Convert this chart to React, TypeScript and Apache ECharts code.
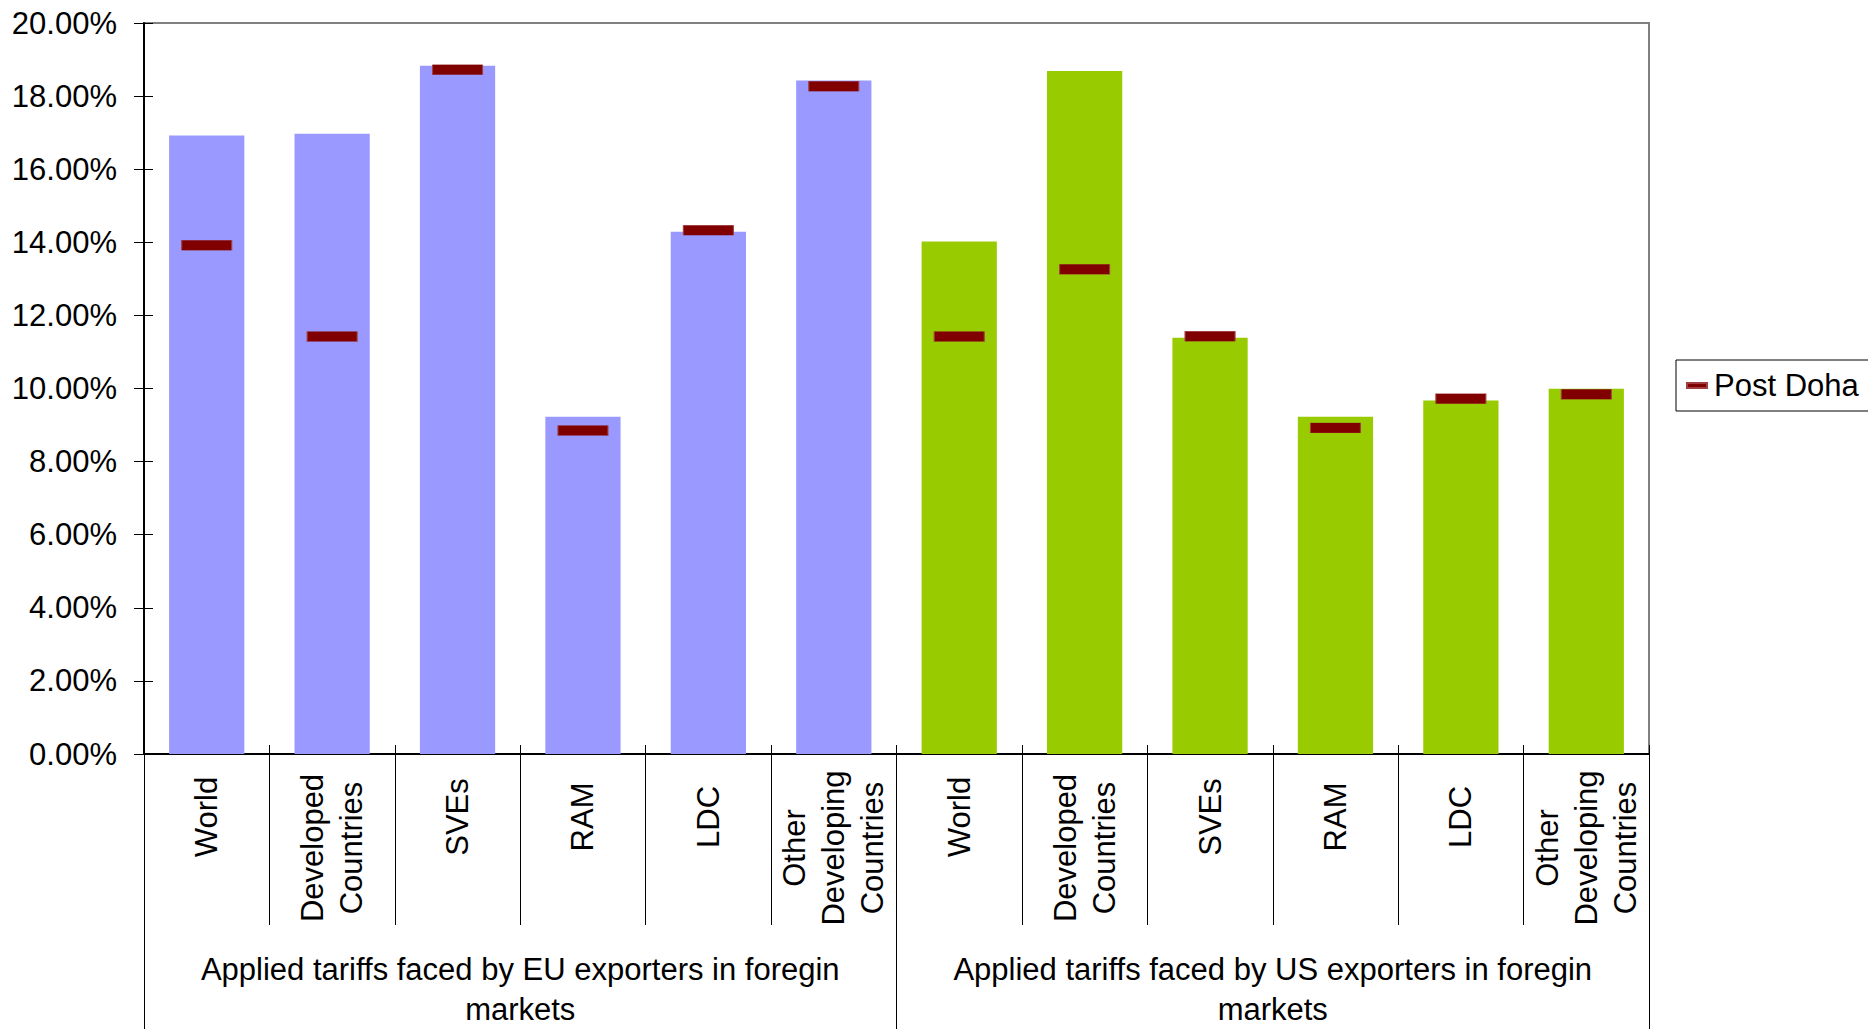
import React, { useEffect, useRef } from "react";
import * as echarts from "echarts";

const categories = [
  "World", "Developed\nCountries", "SVEs", "RAM", "LDC", "Other\nDeveloping\nCountries",
  "World", "Developed\nCountries", "SVEs", "RAM", "LDC", "Other\nDeveloping\nCountries",
];
const groups = [
  "Applied tariffs faced by EU exporters in foregin\nmarkets",
  "Applied tariffs faced by US exporters in foregin\nmarkets",
];
const euCurrent = [16.92, 16.97, 18.83, 9.23, 14.29, 18.43];
const usCurrent = [14.02, 18.69, 11.39, 9.23, 9.67, 9.99];
const postDoha = [13.92, 11.42, 18.72, 8.85, 14.33, 18.27, 11.42, 13.26, 11.43, 8.92, 9.72, 9.84];
const yTicks = { min: 0, max: 20, interval: 2 };
const euColor = "#9999FF";
const usColor = "#99CC00";
const dohaColor = "#800000";

const FONT = "Liberation Sans, Arial, sans-serif";

export default function App() {
  const ref = useRef<HTMLDivElement>(null);
  useEffect(() => {
    if (!ref.current) return;
    const chart = echarts.init(ref.current, undefined, { renderer: "svg" });
    const barData = [
      ...euCurrent.map((v) => ({ value: v, itemStyle: { color: euColor } })),
      ...usCurrent.map((v) => ({ value: v, itemStyle: { color: usColor } })),
    ];
    const catFormatter = (v: string) => {
      const lines = v.split("\n");
      if (lines.length === 1) return "{t|" + v + "}";
      return lines.map((l) => "{t|" + l + "}{p|}").join("\n");
    };
    chart.setOption({
      animation: false,
      backgroundColor: "#ffffff",
      textStyle: { fontFamily: FONT },
      grid: {
        left: 144, top: 23, right: 219, bottom: 275,
        outerBoundsMode: "none", containLabel: false,
        show: true, borderColor: "#808080", borderWidth: 2, backgroundColor: "transparent",
      },
      legend: {
        left: 1676, top: 360,
        data: [{ name: "Post Doha", icon: "rect" }],
        itemWidth: 20, itemHeight: 5, itemGap: 0,
        padding: [10, 60, 10, 10],
        borderColor: "#000000", borderWidth: 1,
        textStyle: { fontSize: 31, color: "#000", fontFamily: FONT, padding: [0, 0, 0, 2] },
      },
      xAxis: [
        {
          type: "category", data: categories, position: "bottom",
          axisLine: { show: true, lineStyle: { color: "#000", width: 2 } },
          axisTick: { show: true, length: 171, lineStyle: { color: "#000", width: 1 } },
          axisLabel: {
            rotate: 90, interval: 0, margin: 63, align: "center", verticalAlign: "middle",
            fontSize: 31, color: "#000", fontFamily: FONT, lineHeight: 39,
            formatter: catFormatter,
            rich: {
              t: { fontSize: 31, color: "#000", fontFamily: FONT, lineHeight: 39 },
              p: { width: 62, lineHeight: 39 },
            },
          },
        },
        {
          type: "category", data: categories, position: "bottom",
          axisLine: { show: false }, axisLabel: { show: false },
          axisTick: { show: true, inside: true, length: 9, lineStyle: { color: "#000", width: 1 } },
        },
        {
          type: "category", data: groups, position: "bottom",
          axisLine: { show: false },
          axisTick: { show: true, length: 280, lineStyle: { color: "#000", width: 1 } },
          axisLabel: {
            interval: 0, margin: 195, fontSize: 31, color: "#000", fontFamily: FONT, lineHeight: 40,
            align: "center",
          },
        },
      ],
      yAxis: [
        {
          type: "value", min: yTicks.min, max: yTicks.max, interval: yTicks.interval,
          axisLine: { show: true, lineStyle: { color: "#000", width: 2 } },
          axisTick: { show: true, length: 10, lineStyle: { color: "#000", width: 1 } },
          splitLine: { show: false },
          axisLabel: {
            margin: 27, fontSize: 31, color: "#000", fontFamily: FONT,
            formatter: (v: number) => v.toFixed(2) + "%",
          },
        },
        {
          type: "value", min: yTicks.min, max: yTicks.max, interval: yTicks.interval, position: "left",
          axisLine: { show: false },
          axisTick: { show: true, inside: true, length: 9, lineStyle: { color: "#000", width: 1 } },
          splitLine: { show: false },
          axisLabel: { show: false },
        },
      ],
      series: [
        {
          name: "Current", type: "bar", data: barData, barWidth: "60%",
          xAxisIndex: 0, yAxisIndex: 0,
        },
        {
          name: "Post Doha", type: "line", data: postDoha,
          xAxisIndex: 0, yAxisIndex: 0,
          lineStyle: { width: 0, opacity: 0 },
          symbol: "rect", symbolSize: [50, 10],
          itemStyle: { color: dohaColor, borderColor: "#a04040", borderWidth: 0.5 },
          z: 5,
        },
      ],
    });
    return () => chart.dispose();
  }, []);
  return (
    <div
      ref={ref}
      style={{ position: "fixed", left: 0, top: 0, width: 1868, height: 1029, background: "#fff" }}
    />
  );
}
